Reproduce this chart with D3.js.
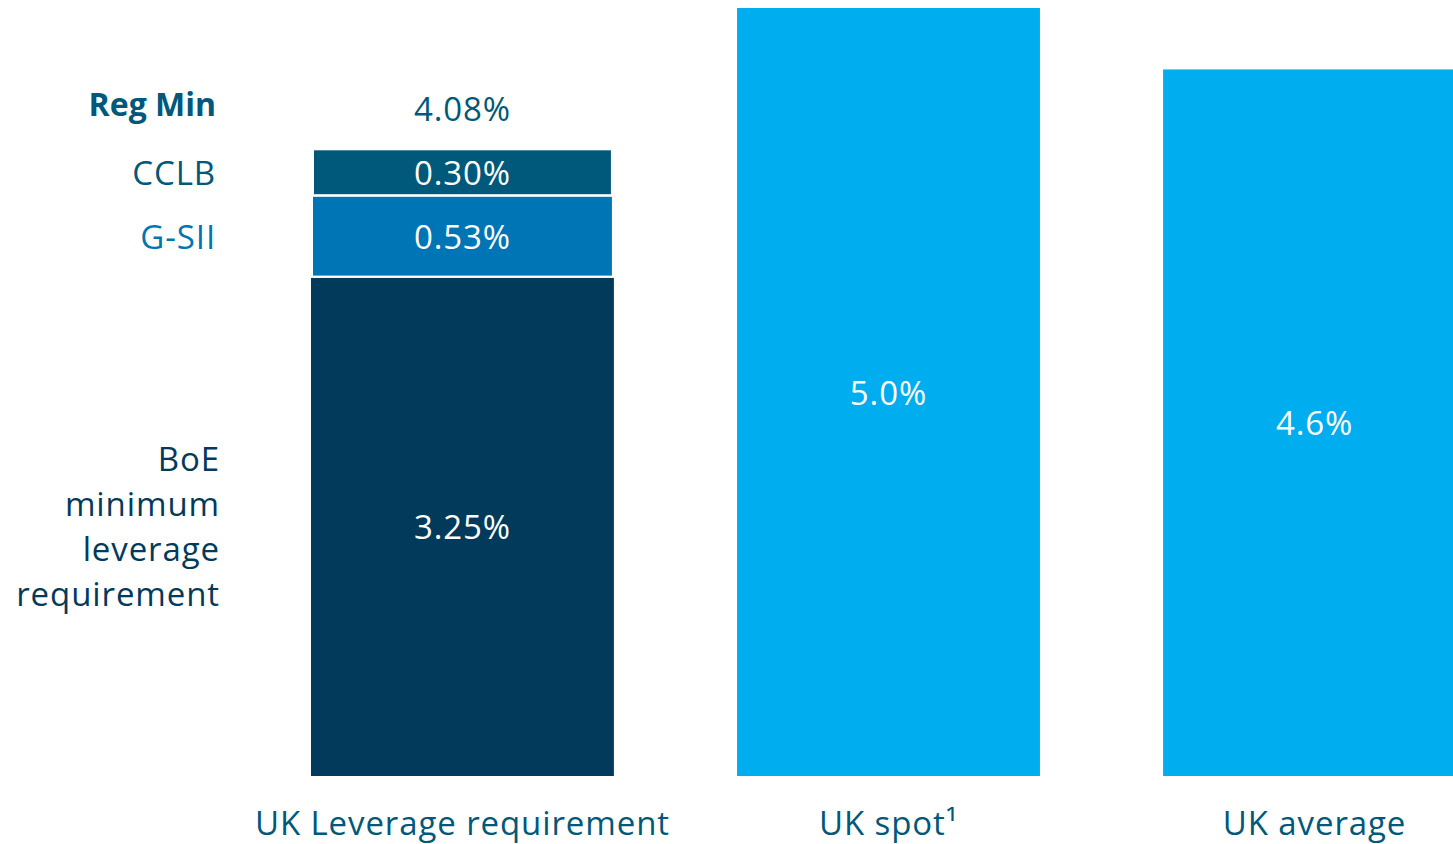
<!DOCTYPE html>
<html>
<head>
<meta charset="utf-8">
<script src="https://cdn.jsdelivr.net/npm/d3@7"></script>
<style>
  html, body { margin: 0; padding: 0; background: #ffffff; }
  svg { display: block; font-family: "Open Sans", "Noto Sans", sans-serif; }
</style>
</head>
<body>
<svg id="chart" width="1453" height="844"></svg>
<script>
// Bar categories along the bottom
const categories = ["UK Leverage requirement", "UK spot¹", "UK average"];

// Components of the stacked UK leverage requirement (bottom to top)
const stackKeys = ["BoE minimum leverage requirement", "G-SII", "CCLB"];
const stackValues = [3.25, 0.53, 0.30];
const stackLabels = ["3.25%", "0.53%", "0.30%"];
const regMinLabel = "4.08%";

// Single-value bars
const ratioCategories = ["UK spot¹", "UK average"];
const ratioValues = [5.0, 4.6];
const ratioLabels = ["5.0%", "4.6%"];

// Left-side legend text for the stack
const sideLabels = [
  { key: "Reg Min", lines: ["Reg Min"], bold: true },
  { key: "CCLB", lines: ["CCLB"] },
  { key: "G-SII", lines: ["G-SII"] },
  { key: "BoE minimum leverage requirement", lines: ["BoE", "minimum", "leverage", "requirement"] }
];

const colors = {
  "BoE minimum leverage requirement": "#023a5c",
  "G-SII": "#0075b5",
  "CCLB": "#00587a",
  ratio: "#00adef"
};
const textColors = {
  "Reg Min": "#00587a",
  "CCLB": "#00587a",
  "G-SII": "#0075b5",
  "BoE minimum leverage requirement": "#023a5c"
};
const axisTextColor = "#00587a";
const fontSize = 33;
const letterSpacing = 0.9;

const svg = d3.select("#chart");
const baseline = 776;

const y = d3.scaleLinear().domain([0, 5.0]).range([baseline, 8]);
const x = d3.scaleBand()
  .domain(categories)
  .range([311, 1466])
  .paddingInner(0.289)
  .paddingOuter(0);

// Stacked requirement bar
const stackRows = [Object.fromEntries(stackKeys.map((k, i) => [k, stackValues[i]]))];
const series = d3.stack().keys(stackKeys)(stackRows);
const stackCat = categories[0];

const segs = svg.append("g").selectAll("g")
  .data(series)
  .join("g");

// Upper segments are slightly inset with a white outline; the base segment is full width
segs.append("rect")
  .attr("x", (d, i) => x(stackCat) + (i === 0 ? 0 : i))
  .attr("width", (d, i) => x.bandwidth() - (i === 0 ? 0 : 2 * i))
  .attr("y", d => y(d[0][1]))
  .attr("height", d => y(d[0][0]) - y(d[0][1]))
  .attr("fill", d => colors[d.key])
  .attr("stroke", (d, i) => i === 0 ? "none" : "#ffffff")
  .attr("stroke-width", 2);

// Separator lines between stacked segments
svg.append("g").selectAll("line")
  .data(series.slice(1))
  .join("line")
  .attr("x1", x(stackCat))
  .attr("x2", x(stackCat) + x.bandwidth())
  .attr("y1", d => y(d[0][0]))
  .attr("y2", d => y(d[0][0]))
  .attr("stroke", "#ffffff")
  .attr("stroke-width", 2);

segs.append("text")
  .attr("x", x(stackCat) + x.bandwidth() / 2)
  .attr("y", d => (y(d[0][0]) + y(d[0][1])) / 2)
  .attr("text-anchor", "middle")
  .attr("dominant-baseline", "central")
  .attr("fill", "#ffffff")
  .attr("font-size", fontSize)
  .attr("letter-spacing", letterSpacing)
  .text((d, i) => stackLabels[i]);

// Total regulatory minimum above the stack
const stackTotal = d3.sum(stackValues);
svg.append("text")
  .attr("x", x(stackCat) + x.bandwidth() / 2)
  .attr("y", y(stackTotal) - 41)
  .attr("text-anchor", "middle")
  .attr("dominant-baseline", "central")
  .attr("fill", axisTextColor)
  .attr("font-size", fontSize)
  .attr("letter-spacing", letterSpacing)
  .text(regMinLabel);

// Leverage ratio bars
const ratioData = ratioCategories.map((c, i) => ({ cat: c, value: ratioValues[i], label: ratioLabels[i] }));
const rb = svg.append("g").selectAll("g").data(ratioData).join("g");
rb.append("rect")
  .attr("x", d => x(d.cat))
  .attr("width", x.bandwidth())
  .attr("y", d => y(d.value))
  .attr("height", d => baseline - y(d.value))
  .attr("fill", colors.ratio);
rb.append("text")
  .attr("x", d => x(d.cat) + x.bandwidth() / 2)
  .attr("y", d => (y(d.value) + baseline) / 2)
  .attr("text-anchor", "middle")
  .attr("dominant-baseline", "central")
  .attr("fill", "#ffffff")
  .attr("font-size", fontSize)
  .attr("letter-spacing", letterSpacing)
  .text(d => d.label);

// Category axis labels
const xAxis = d3.axisBottom(x).tickSize(0).tickPadding(0);
const gx = svg.append("g").attr("transform", `translate(0,${baseline})`).call(xAxis);
gx.select(".domain").remove();
gx.selectAll("text")
  .attr("y", 47)
  .attr("dy", "0.35em")
  .attr("fill", axisTextColor)
  .attr("font-size", fontSize)
  .attr("letter-spacing", letterSpacing)
  .attr("font-family", "\"Open Sans\", \"Noto Sans\", sans-serif");

// Side labels for each component, vertically centred on their segment
const centres = {
  "Reg Min": y(stackTotal) - 46,
  "CCLB": (y(series[2][0][0]) + y(series[2][0][1])) / 2,
  "G-SII": (y(series[1][0][0]) + y(series[1][0][1])) / 2,
  "BoE minimum leverage requirement": (y(series[0][0][0]) + y(series[0][0][1])) / 2
};
const lineH = 45;
const side = svg.append("g").selectAll("text").data(sideLabels).join("text")
  .attr("text-anchor", "end")
  .attr("fill", d => textColors[d.key])
  .attr("font-size", d => d.bold ? 32 : fontSize)
  .attr("letter-spacing", d => d.bold ? 0 : letterSpacing)
  .attr("font-weight", d => d.bold ? 700 : 400);
side.each(function(d) {
  const n = d.lines.length;
  const xr = n > 1 ? 220 : 216;
  d3.select(this).selectAll("tspan").data(d.lines).join("tspan")
    .attr("x", xr)
    .attr("y", (l, i) => centres[d.key] + (i - (n - 1) / 2) * lineH)
    .attr("dominant-baseline", "central")
    .text(l => l);
});
</script>
</body>
</html>
